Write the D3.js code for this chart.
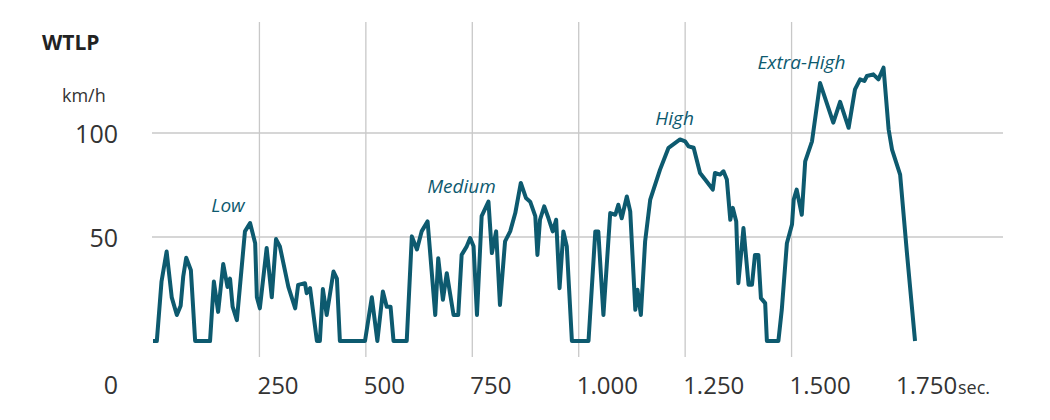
<!DOCTYPE html>
<html>
<head>
<meta charset="utf-8">
<script src="https://cdn.jsdelivr.net/npm/d3@7"></script>
<style>
body { margin: 0; background: #fff; }
text { font-family: "Open Sans", "Noto Sans", sans-serif; }
</style>
</head>
<body>
<svg id="chart" width="1050" height="420"></svg>
<script>
// time in seconds, speed in km/h
var seconds = [0,9,20,32,44,56,65,71,78,89,99,134,143,153,165,175,181,187,197,216,228,240,244,251,267,279,289,298,318,334,341,357,361,369,385,392,399,408,424,432,439,498,514,527,540,549,558,565,596,608,620,631,645,663,670,681,690,706,717,725,737,745,753,761,772,788,796,806,815,827,839,851,864,876,886,898,903,909,919,929,939,947,955,964,972,984,1023,1039,1046,1058,1074,1086,1093,1101,1113,1121,1133,1138,1146,1156,1168,1191,1211,1238,1250,1258,1270,1285,1297,1315,1320,1332,1340,1348,1356,1362,1370,1375,1387,1399,1407,1414,1422,1428,1438,1442,1469,1477,1489,1501,1505,1512,1524,1532,1548,1567,1598,1614,1634,1649,1661,1671,1677,1692,1704,1716,1728,1736,1755,1771,1790]
var speed = [0,0,28.6,43,21,12.5,17,31,40,34,0,0,28.6,14,37,26,30,16.5,10,52.7,56.7,47,21,15.7,44.7,21,49,45.5,26,15.7,27,27.8,23,25.4,0,0,25,12.5,33.4,30,0,0,21,0,23.8,16.5,16.5,0,0,50.3,44,52.7,57.5,12.5,39.8,19.8,32.6,12.5,12.5,41.4,45.5,49.5,45.5,12.5,60,67,42.3,52.7,17.3,47.9,52.7,61.5,76,68.8,67,60,41.4,58.3,64.7,59,52.7,58.3,25.4,52.7,45.5,0,0,52.7,52.7,12.5,61.5,60.7,65.5,59,69.5,62.3,15,24.6,12.5,47.9,68,82.4,92.9,96.9,96,93.6,92.9,80.8,77.6,72.8,80.8,80,81.6,77.6,58.3,64,57.5,27.8,54.3,27,27,41.4,41.4,20.6,18.2,0,0,15,47,56,68,72.8,60.7,86.4,96,124,105,115,102.5,121,125.8,125,127.4,128.2,125.8,131.4,101.7,92,80,42.3,0]
var xTicks = [250,500,750,1000,1250,1500,1750]
var xTickLabels = ["250","500","750","1.000","1.250","1.500","1.750"]
var yTicks = [50,100]
var phases = [
  {name:"Low", t:137, v:62},
  {name:"Medium", t:644, v:71},
  {name:"High", t:1180, v:104},
  {name:"Extra-High", t:1420, v:131}
]

var svg = d3.select("#chart")
var lineColor = "#0d5a6f"

var x = d3.scaleLinear().domain([0,1750]).range([153,898])
var y = d3.scaleLinear().domain([0,100]).range([341,133])

// grid
svg.selectAll(".hg").data(yTicks).enter().append("line")
  .attr("x1",152).attr("x2",1003)
  .attr("y1",function(d){return y(d)}).attr("y2",function(d){return y(d)})
  .attr("stroke","#c8c8c8").attr("stroke-width",1.3)
svg.selectAll(".vg").data(xTicks.slice(0,6)).enter().append("line")
  .attr("x1",function(d){return x(d)}).attr("x2",function(d){return x(d)})
  .attr("y1",22).attr("y2",357)
  .attr("stroke","#c8c8c8").attr("stroke-width",1.3)

// y labels
svg.selectAll(".yl").data(yTicks).enter().append("text")
  .attr("x",118).attr("y",function(d){return y(d)+10})
  .attr("text-anchor","end").attr("font-size",25).attr("fill","#333")
  .text(function(d){return d})
svg.append("text").attr("x",118).attr("y",394).attr("text-anchor","end")
  .attr("font-size",25).attr("fill","#333").text("0")

// x labels
svg.selectAll(".xl").data(xTicks).enter().append("text")
  .attr("x",function(d){return x(d)-2}).attr("y",394)
  .attr("font-size",24).attr("fill","#333")
  .text(function(d,i){return xTickLabels[i]})
svg.append("text").attr("x",958).attr("y",394).attr("font-size",18).attr("fill","#333").text("sec.")

svg.append("text").attr("x",42).attr("y",50).attr("font-size",21).attr("font-weight","bold").attr("fill","#222").text("WTLP")
svg.append("text").attr("x",62).attr("y",102).attr("font-size",18).attr("fill","#333").text("km/h")

// line
var line = d3.line().x(function(d){return x(d[0])}).y(function(d){return y(d[1])})
svg.append("path").datum(d3.zip(seconds,speed))
  .attr("d",line).attr("fill","none").attr("stroke",lineColor)
  .attr("stroke-width",4).attr("stroke-linejoin","round")

svg.selectAll(".ph").data(phases).enter().append("text")
  .attr("x",function(d){return x(d.t)}).attr("y",function(d){return y(d.v)})
  .attr("font-size",19).attr("font-style","italic").attr("fill",lineColor)
  .text(function(d){return d.name})
</script>
</body>
</html>
